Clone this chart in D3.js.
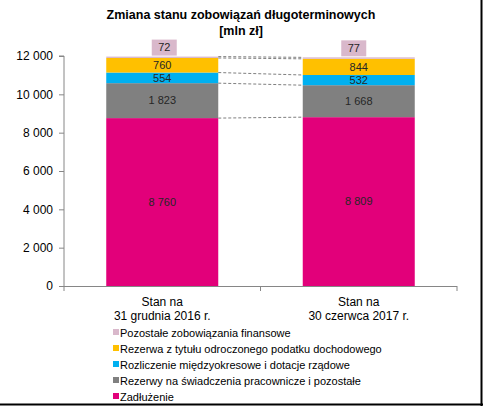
<!DOCTYPE html>
<html><head><meta charset="utf-8">
<script src="https://cdn.jsdelivr.net/npm/d3@7"></script>
<style>
html,body{margin:0;padding:0;background:#fff;}
svg{display:block;font-family:"Liberation Sans",Arial,sans-serif;}
</style></head>
<body>
<svg id="c" width="483" height="406"></svg>
<script>
const categories = ["Stan na\n31 grudnia 2016 r.", "Stan na\n30 czerwca 2017 r."];
const seriesNames = ["Zadłużenie", "Rezerwy na świadczenia pracownicze i pozostałe", "Rozliczenie międzyokresowe i dotacje rządowe", "Rezerwa z tytułu odroczonego podatku dochodowego", "Pozostałe zobowiązania finansowe"];
const zadluzenie = [8760, 8809];
const rezerwyPrac = [1823, 1668];
const rozliczenie = [554, 532];
const rezerwaPod = [760, 844];
const pozostale = [72, 77];
const yTicks = [0, 2000, 4000, 6000, 8000, 10000, 12000];
const colors = ["#E2007A", "#808080", "#00B0F0", "#FFC000", "#D9B8CB"];

const svg = d3.select("#c");
const fmt = v => d3.format(",")(v).replace(/,/g, " ");

const x0 = 64, x1 = 457, yBase = 286, yTop = 56;
const x = d3.scaleBand().domain(categories).range([x0, x1]).paddingInner(0.43).paddingOuter(0.215);
const y = d3.scaleLinear().domain([0, 12000]).range([yBase, yTop]);

const seriesArr = [zadluzenie, rezerwyPrac, rozliczenie, rezerwaPod, pozostale];
const rows = categories.map((c, i) => {
  const o = {cat: c};
  seriesNames.forEach((s, k) => o[s] = seriesArr[k][i]);
  return o;
});
const stack = d3.stack().keys(seriesNames)(rows);

// title
const title = svg.append("text").attr("x", 241).attr("text-anchor", "middle")
  .attr("font-weight", "bold").attr("font-size", 12.5).attr("fill", "#000");
title.append("tspan").attr("x", 241).attr("y", 19).text("Zmiana stanu zobowiązań długoterminowych");
title.append("tspan").attr("x", 241).attr("y", 35).text("[mln zł]");

// y axis
const yAxis = svg.append("g").attr("transform", `translate(${x0},0)`)
  .call(d3.axisLeft(y).tickValues(yTicks).tickSize(5).tickPadding(6).tickFormat(fmt));
yAxis.selectAll("path,line").attr("stroke", "#868686");
yAxis.select("path").attr("d", `M-5,${yTop}H0V${yBase}`);
yAxis.selectAll("text").attr("font-size", 12).attr("fill", "#000").attr("font-family", "Liberation Sans, Arial, sans-serif");

// x axis line & ticks
const xg = svg.append("g");
xg.append("line").attr("x1", x0).attr("x2", x1).attr("y1", yBase + 0.5).attr("y2", yBase + 0.5).attr("stroke", "#868686");
[x0, (x0 + x1) / 2, x1].forEach(t => xg.append("line").attr("x1", t).attr("x2", t).attr("y1", yBase).attr("y2", yBase + 5).attr("stroke", "#868686"));

// bars
stack.forEach((layer, k) => {
  svg.append("g").selectAll("rect").data(layer).join("rect")
    .attr("x", d => x(d.data.cat)).attr("width", x.bandwidth())
    .attr("y", d => y(d[1])).attr("height", d => y(d[0]) - y(d[1]))
    .attr("fill", colors[k]);
});

// dashed connectors
stack.forEach((layer) => {
  const a = layer[0], b = layer[1];
  svg.append("line")
    .attr("x1", x(categories[0]) + x.bandwidth()).attr("y1", y(a[1]))
    .attr("x2", x(categories[1])).attr("y2", y(b[1]))
    .attr("stroke", "#7f7f7f").attr("stroke-width", 1).attr("stroke-dasharray", "3,2");
});

// value labels
stack.forEach((layer, k) => {
  layer.forEach((d, i) => {
    const cx = x(d.data.cat) + x.bandwidth() / 2;
    const v = d[1] - d[0];
    if (k === 4) {
      const dx = i === 0 ? 2 : -5;
      svg.append("rect").attr("x", cx + dx - 12.5).attr("y", y(d[1]) - 17)
        .attr("width", 25).attr("height", 16).attr("fill", colors[4]);
      svg.append("text").attr("x", cx + dx).attr("y", y(d[1]) - 9)
        .attr("dy", "0.35em").attr("text-anchor", "middle").attr("font-size", 11)
        .attr("fill", "#262626").text(fmt(v));
    } else {
      svg.append("text").attr("x", cx).attr("y", (y(d[0]) + y(d[1])) / 2)
        .attr("dy", "0.35em").attr("text-anchor", "middle").attr("font-size", 11)
        .attr("fill", "#262626").text(fmt(v));
    }
  });
});

// category labels
categories.forEach(c => {
  const cx = x(c) + x.bandwidth() / 2;
  const t = svg.append("text").attr("text-anchor", "middle").attr("font-size", 12).attr("fill", "#000");
  c.split("\n").forEach((line, j) => t.append("tspan").attr("x", cx).attr("y", 306 + j * 14).text(line));
});

// legend (reversed order)
const legendOrder = seriesNames.map((s, k) => ({s, k})).reverse();
const lg = svg.append("g");
legendOrder.forEach((d, j) => {
  const ly = 333 + j * 16;
  lg.append("rect").attr("x", 113).attr("y", ly - 4).attr("width", 6).attr("height", 6).attr("fill", colors[d.k]);
  lg.append("text").attr("x", 120).attr("y", ly).attr("dy", "0.35em").attr("font-size", 11).attr("fill", "#000").text(d.s);
});

// frame
svg.append("line").attr("x1", 481.5).attr("x2", 481.5).attr("y1", 0).attr("y2", 406).attr("stroke", "#000").attr("stroke-width", 2);
svg.append("line").attr("x1", 0).attr("x2", 483).attr("y1", 404.5).attr("y2", 404.5).attr("stroke", "#000").attr("stroke-width", 2);
</script>
</body></html>
